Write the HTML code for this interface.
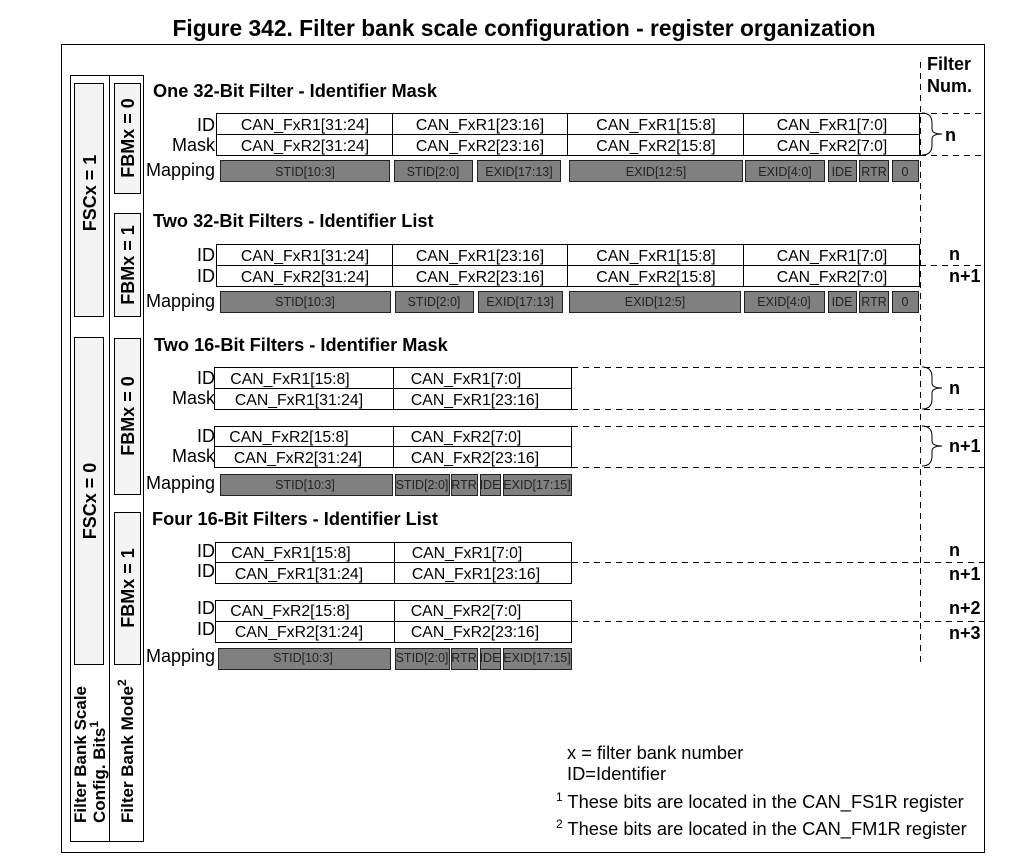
<!DOCTYPE html>
<html><head><meta charset="utf-8"><style>
html,body{margin:0;padding:0;background:#fff}
svg{display:block}
text{font-family:"Liberation Sans",Arial,sans-serif;fill:#000}
.t{font-weight:bold;font-size:18.2px}
.c{font-size:15.8px;text-anchor:middle}
.l{font-size:18px;text-anchor:end}
.m{font-size:12.5px;text-anchor:middle;fill:#222}
.v{font-weight:bold;font-size:18px;text-anchor:middle}
.nn{font-weight:bold;font-size:18px}
.box{fill:#fff;stroke:#000;stroke-width:1}
.mp{fill:#808080;stroke:#222;stroke-width:1}
.ds{stroke:#000;stroke-width:1;stroke-dasharray:6,5;fill:none}
.lb{fill:#f4f4f4;stroke:#000;stroke-width:1}
</style></head><body>
<svg width="1019" height="862" xmlns="http://www.w3.org/2000/svg">
<text x="524" y="36" style="font-weight:bold;font-size:22.8px;text-anchor:middle">Figure 342. Filter bank scale configuration - register organization</text>
<rect x="61.5" y="44.5" width="923" height="808" fill="none" stroke="#000"/>
<!-- left column -->
<rect x="70.5" y="75.5" width="73" height="766" fill="#fff" stroke="#000"/>
<line x1="109.5" y1="75" x2="109.5" y2="841" stroke="#000"/>
<rect class="lb" x="74.5" y="83.5" width="29" height="233"/>
<rect class="lb" x="74.5" y="337.5" width="29" height="327"/>
<rect class="lb" x="114.5" y="83.5" width="26" height="110"/>
<rect class="lb" x="114.5" y="213.5" width="26" height="103"/>
<rect class="lb" x="114.5" y="338.5" width="26" height="156"/>
<rect class="lb" x="114.5" y="512.5" width="26" height="152"/>
<text class="v" transform="translate(96,193) rotate(-90)">FSCx = 1</text>
<text class="v" transform="translate(96,501) rotate(-90)">FSCx = 0</text>
<text class="v" transform="translate(134,138) rotate(-90)">FBMx = 0</text>
<text class="v" transform="translate(134,265) rotate(-90)">FBMx = 1</text>
<text class="v" transform="translate(134,416) rotate(-90)">FBMx = 0</text>
<text class="v" transform="translate(134,588) rotate(-90)">FBMx = 1</text>
<text transform="translate(86,823) rotate(-90)" style="font-size:17px;font-weight:bold">Filter Bank Scale</text>
<text transform="translate(105,823) rotate(-90)" style="font-size:17px;font-weight:bold">Config. Bits<tspan font-size="12" dy="-7">1</tspan></text>
<text transform="translate(133,823) rotate(-90)" style="font-size:17px;font-weight:bold">Filter Bank Mode<tspan font-size="12" dy="-7">2</tspan></text>
<!-- filter num column -->
<line x1="920.5" y1="62" x2="920.5" y2="662" class="ds"/>
<text class="nn" x="927" y="70">Filter</text>
<text class="nn" x="927" y="92">Num.</text>

<!-- Section 1 -->
<text class="t" x="153" y="97">One 32-Bit Filter - Identifier Mask</text>
<rect class="box" x="216.5" y="113.5" width="703" height="21"/>
<rect class="box" x="216.5" y="134.5" width="703" height="21"/>
<line x1="392.5" y1="113" x2="392.5" y2="155" stroke="#000"/><line x1="567.5" y1="113" x2="567.5" y2="155" stroke="#000"/><line x1="743.5" y1="113" x2="743.5" y2="155" stroke="#000"/>
<text class="l" x="215" y="131">ID</text><text class="l" x="215" y="151">Mask</text>
<text class="c" x="305" y="130">CAN_FxR1[31:24]</text><text class="c" x="480" y="130">CAN_FxR1[23:16]</text><text class="c" x="656" y="130">CAN_FxR1[15:8]</text><text class="c" x="832" y="130">CAN_FxR1[7:0]</text>
<text class="c" x="305" y="151">CAN_FxR2[31:24]</text><text class="c" x="480" y="151">CAN_FxR2[23:16]</text><text class="c" x="656" y="151">CAN_FxR2[15:8]</text><text class="c" x="832" y="151">CAN_FxR2[7:0]</text>
<text class="l" x="215" y="176">Mapping</text>
<g>
<rect class="mp" x="220.5" y="160.5" width="169" height="21"/><text class="m" x="305" y="176">STID[10:3]</text>
<rect class="mp" x="394.5" y="160.5" width="78" height="21"/><text class="m" x="433" y="176">STID[2:0]</text>
<rect class="mp" x="477.5" y="160.5" width="83" height="21"/><text class="m" x="519" y="176">EXID[17:13]</text>
<rect class="mp" x="569.5" y="160.5" width="173" height="21"/><text class="m" x="656" y="176">EXID[12:5]</text>
<rect class="mp" x="745.5" y="160.5" width="79" height="21"/><text class="m" x="785" y="176">EXID[4:0]</text>
<rect class="mp" x="828.5" y="160.5" width="28" height="21"/><text class="m" x="842" y="176">IDE</text>
<rect class="mp" x="859.5" y="160.5" width="29" height="21"/><text class="m" x="874" y="176">RTR</text>
<rect class="mp" x="892.5" y="160.5" width="26" height="21"/><text class="m" x="905" y="176">0</text>
</g>
<line class="ds" x1="920" y1="113.5" x2="985" y2="113.5"/><line class="ds" x1="920" y1="155.5" x2="985" y2="155.5"/>
<path d="M922,113 q10,0 10,10 v6 q0,5 10,5 q-10,0 -10,5 v6 q0,10 -10,10" fill="none" stroke="#000"/>
<text class="nn" x="945" y="141">n</text>

<!-- Section 2 -->
<text class="t" x="153" y="227">Two 32-Bit Filters - Identifier List</text>
<rect class="box" x="216.5" y="244.5" width="703" height="21"/>
<rect class="box" x="216.5" y="265.5" width="703" height="21"/>
<line x1="392.5" y1="244" x2="392.5" y2="287" stroke="#000"/><line x1="567.5" y1="244" x2="567.5" y2="287" stroke="#000"/><line x1="743.5" y1="244" x2="743.5" y2="287" stroke="#000"/>
<text class="l" x="215" y="261">ID</text><text class="l" x="215" y="282">ID</text>
<text class="c" x="305" y="261">CAN_FxR1[31:24]</text><text class="c" x="480" y="261">CAN_FxR1[23:16]</text><text class="c" x="656" y="261">CAN_FxR1[15:8]</text><text class="c" x="832" y="261">CAN_FxR1[7:0]</text>
<text class="c" x="305" y="282">CAN_FxR2[31:24]</text><text class="c" x="480" y="282">CAN_FxR2[23:16]</text><text class="c" x="656" y="282">CAN_FxR2[15:8]</text><text class="c" x="832" y="282">CAN_FxR2[7:0]</text>
<text class="l" x="215" y="307">Mapping</text>
<g>
<rect class="mp" x="220.5" y="291.5" width="170" height="21"/><text class="m" x="305" y="306">STID[10:3]</text>
<rect class="mp" x="395.5" y="291.5" width="78" height="21"/><text class="m" x="434" y="306">STID[2:0]</text>
<rect class="mp" x="478.5" y="291.5" width="84" height="21"/><text class="m" x="520" y="306">EXID[17:13]</text>
<rect class="mp" x="569.5" y="291.5" width="171" height="21"/><text class="m" x="655" y="306">EXID[12:5]</text>
<rect class="mp" x="744.5" y="291.5" width="80" height="21"/><text class="m" x="784" y="306">EXID[4:0]</text>
<rect class="mp" x="828.5" y="291.5" width="28" height="21"/><text class="m" x="842" y="306">IDE</text>
<rect class="mp" x="859.5" y="291.5" width="29" height="21"/><text class="m" x="874" y="306">RTR</text>
<rect class="mp" x="892.5" y="291.5" width="26" height="21"/><text class="m" x="905" y="306">0</text>
</g>
<line class="ds" x1="920" y1="265.5" x2="985" y2="265.5"/>
<text class="nn" x="949" y="260">n</text><text class="nn" x="949" y="282">n+1</text>

<!-- Section 3 -->
<text class="t" x="154" y="351">Two 16-Bit Filters - Identifier Mask</text>
<rect class="box" x="214.5" y="367.5" width="357" height="21"/><rect class="box" x="214.5" y="388.5" width="357" height="21"/>
<line x1="393.5" y1="367" x2="393.5" y2="410" stroke="#000"/>
<rect class="box" x="214.5" y="426.5" width="357" height="20"/><rect class="box" x="214.5" y="446.5" width="357" height="21"/>
<line x1="393.5" y1="426" x2="393.5" y2="467" stroke="#000"/>
<text class="l" x="215" y="384">ID</text><text class="l" x="215" y="404">Mask</text>
<text class="l" x="215" y="442">ID</text><text class="l" x="215" y="462">Mask</text>
<text class="c" x="290" y="384">CAN_FxR1[15:8]</text><text class="c" x="466" y="384">CAN_FxR1[7:0]</text>
<text class="c" x="299" y="405">CAN_FxR1[31:24]</text><text class="c" x="475" y="405">CAN_FxR1[23:16]</text>
<text class="c" x="289" y="442">CAN_FxR2[15:8]</text><text class="c" x="466" y="442">CAN_FxR2[7:0]</text>
<text class="c" x="298" y="463">CAN_FxR2[31:24]</text><text class="c" x="475" y="463">CAN_FxR2[23:16]</text>
<text class="l" x="215" y="489">Mapping</text>
<g>
<rect class="mp" x="220.5" y="474.5" width="172" height="21"/><text class="m" x="305" y="489">STID[10:3]</text>
<rect class="mp" x="395.5" y="474.5" width="54" height="21"/><text class="m" x="422" y="489">STID[2:0]</text>
<rect class="mp" x="451.5" y="474.5" width="26" height="21"/><text class="m" x="464" y="489">RTR</text>
<rect class="mp" x="480.5" y="474.5" width="20" height="21"/><text class="m" x="490" y="489">IDE</text>
<rect class="mp" x="503.5" y="474.5" width="68" height="21"/><text class="m" x="537" y="489">EXID[17:15]</text>
</g>
<line class="ds" x1="572" y1="367.5" x2="985" y2="367.5"/><line class="ds" x1="572" y1="409.5" x2="985" y2="409.5"/>
<line class="ds" x1="572" y1="426.5" x2="985" y2="426.5"/><line class="ds" x1="572" y1="467.5" x2="985" y2="467.5"/>
<path d="M922,367 q10,0 10,10 v6 q0,5 10,5 q-10,0 -10,5 v6 q0,10 -10,10" fill="none" stroke="#000"/>
<path d="M922,426 q10,0 10,10 v5 q0,5 10,5 q-10,0 -10,5 v5 q0,10 -10,10" fill="none" stroke="#000"/>
<text class="nn" x="949" y="394">n</text><text class="nn" x="949" y="452">n+1</text>

<!-- Section 4 -->
<text class="t" x="152" y="525">Four 16-Bit Filters - Identifier List</text>
<rect class="box" x="215.5" y="542.5" width="356" height="20"/><rect class="box" x="215.5" y="562.5" width="356" height="21"/>
<line x1="394.5" y1="542" x2="394.5" y2="583" stroke="#000"/>
<rect class="box" x="215.5" y="600.5" width="356" height="21"/><rect class="box" x="215.5" y="621.5" width="356" height="21"/>
<line x1="394.5" y1="600" x2="394.5" y2="642" stroke="#000"/>
<text class="l" x="215" y="557">ID</text><text class="l" x="215" y="577">ID</text>
<text class="l" x="215" y="614">ID</text><text class="l" x="215" y="635">ID</text>
<text class="c" x="291" y="558">CAN_FxR1[15:8]</text><text class="c" x="467" y="558">CAN_FxR1[7:0]</text>
<text class="c" x="299" y="579">CAN_FxR1[31:24]</text><text class="c" x="476" y="579">CAN_FxR1[23:16]</text>
<text class="c" x="290" y="616">CAN_FxR2[15:8]</text><text class="c" x="466" y="616">CAN_FxR2[7:0]</text>
<text class="c" x="299" y="637">CAN_FxR2[31:24]</text><text class="c" x="475" y="637">CAN_FxR2[23:16]</text>
<text class="l" x="215" y="662">Mapping</text>
<g>
<rect class="mp" x="218.5" y="648.5" width="172" height="21"/><text class="m" x="303" y="662">STID[10:3]</text>
<rect class="mp" x="395.5" y="648.5" width="54" height="21"/><text class="m" x="422" y="662">STID[2:0]</text>
<rect class="mp" x="451.5" y="648.5" width="26" height="21"/><text class="m" x="464" y="662">RTR</text>
<rect class="mp" x="480.5" y="648.5" width="20" height="21"/><text class="m" x="490" y="662">IDE</text>
<rect class="mp" x="503.5" y="648.5" width="68" height="21"/><text class="m" x="537" y="662">EXID[17:15]</text>
</g>
<line class="ds" x1="572" y1="562.5" x2="985" y2="562.5"/><line class="ds" x1="572" y1="621.5" x2="985" y2="621.5"/>
<text class="nn" x="949" y="556">n</text><text class="nn" x="949" y="580">n+1</text>
<text class="nn" x="949" y="614">n+2</text><text class="nn" x="949" y="639">n+3</text>

<!-- notes -->
<text x="567" y="759" style="font-size:18.3px">x = filter bank number</text>
<text x="567" y="780" style="font-size:18.3px">ID=Identifier</text>
<text x="556" y="808" style="font-size:18.3px"><tspan font-size="12" dy="-7">1</tspan><tspan dy="7"> These bits are located in the CAN_FS1R register</tspan></text>
<text x="556" y="835" style="font-size:18.3px"><tspan font-size="12" dy="-7">2</tspan><tspan dy="7"> These bits are located in the CAN_FM1R register</tspan></text>
</svg>
</body></html>
